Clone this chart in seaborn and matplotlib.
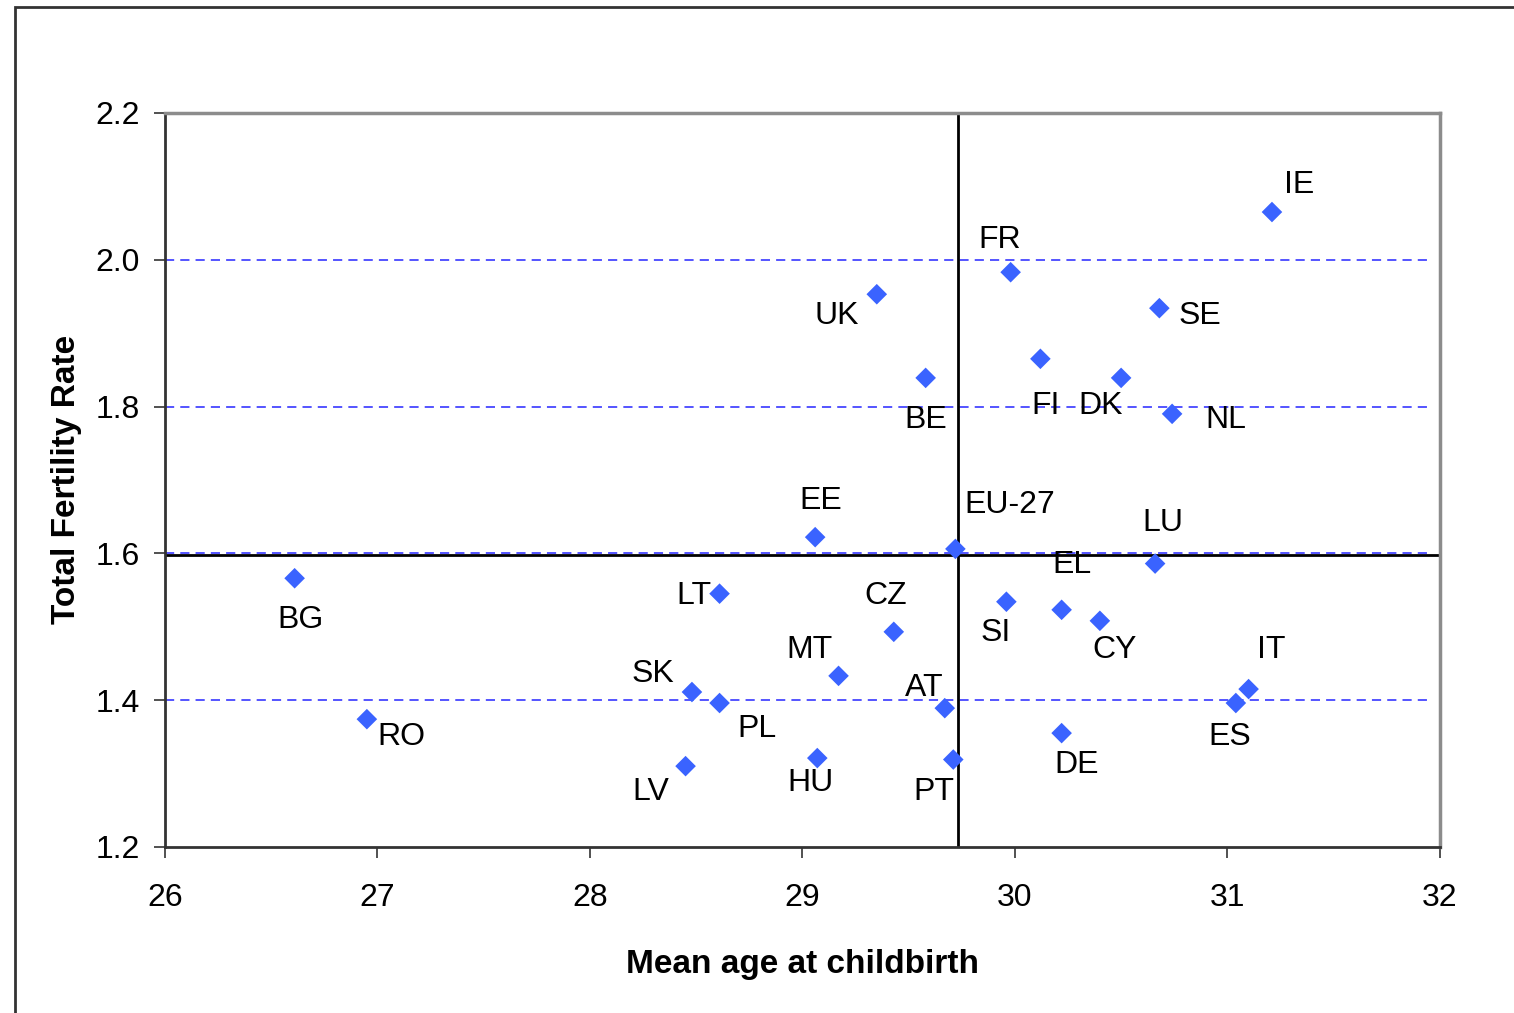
import matplotlib
matplotlib.use("Agg")
import matplotlib.pyplot as plt
import seaborn as sns
import pandas as pd
from matplotlib.patches import Rectangle

# data
countries = ["IE", "FR", "UK", "SE", "FI", "BE", "DK", "NL", "EE", "EU-27",
             "LU", "BG", "LT", "SI", "EL", "CY", "CZ", "MT", "SK", "IT",
             "PL", "ES", "AT", "RO", "DE", "HU", "PT", "LV"]
mean_age = [31.21, 29.98, 29.35, 30.68, 30.12, 29.58, 30.50, 30.74, 29.06, 29.72,
            30.66, 26.61, 28.61, 29.96, 30.22, 30.40, 29.43, 29.17, 28.48, 31.10,
            28.61, 31.04, 29.67, 26.95, 30.22, 29.07, 29.71, 28.45]
fertility = [2.065, 1.983, 1.953, 1.934, 1.865, 1.839, 1.839, 1.790, 1.622, 1.606,
             1.586, 1.566, 1.545, 1.534, 1.523, 1.508, 1.493, 1.433, 1.411, 1.415,
             1.396, 1.396, 1.389, 1.374, 1.355, 1.321, 1.319, 1.310]
eu_age, eu_tfr = 29.73, 1.598
grid_levels = [1.4, 1.6, 1.8, 2.0]
x_ticks = [26, 27, 28, 29, 30, 31, 32]
y_ticks = [1.2, 1.4, 1.6, 1.8, 2.0, 2.2]

# label placement (pixel offsets from the point)
label_offsets = {
    "IE": (27, 27), "FR": (-11, 32), "UK": (-40, -22), "SE": (41, -8),
    "FI": (5, -47), "BE": (0, -42), "DK": (-20, -28), "NL": (54, -6),
    "EE": (6, 36), "EU-27": (54, 44), "LU": (8, 41), "BG": (6, -42),
    "LT": (-26, -2), "SI": (-11, -31), "EL": (10, 45), "CY": (15, -29),
    "CZ": (-8, 36), "MT": (-29, 26), "SK": (-39, 18), "IT": (23, 39),
    "PL": (37, -26), "ES": (-6, -34), "AT": (-21, 20), "RO": (35, -18),
    "DE": (15, -32), "HU": (-7, -25), "PT": (-19, -32), "LV": (-35, -26),
}

df = pd.DataFrame({"country": countries, "age": mean_age, "tfr": fertility})

sns.set_style("white")
plt.rcParams["font.family"] = ["Liberation Sans", "DejaVu Sans"]

fig = plt.figure(figsize=(15.14, 10.13), dpi=100)
ax = fig.add_axes([0.109, 0.164, 0.842, 0.7245])

# outer frame of the figure
fig.patches.append(Rectangle((15 / 1514, -0.05), 1.2, 1 - 7 / 1013 + 0.05,
                             transform=fig.transFigure, fill=False,
                             edgecolor="#333333", linewidth=2))

for lvl in grid_levels:
    ax.axhline(lvl, xmin=0, xmax=0.992, color="#2626ff", linestyle=(0, (6, 4)),
               linewidth=1.1, zorder=1)

ax.axvline(eu_age, color="black", linewidth=2, zorder=2)
ax.axhline(eu_tfr, color="black", linewidth=2, zorder=2)

sns.scatterplot(data=df, x="age", y="tfr", marker="D", s=110,
                color="#3a63ff", edgecolor="none", ax=ax, zorder=3)

for c, x, y in zip(countries, mean_age, fertility):
    dx, dy = label_offsets[c]
    ax.annotate(c, (x, y), xytext=(dx, dy), textcoords="offset pixels",
                ha="center", va="center", fontsize=23, color="black")

ax.set_xlim(26, 32)
ax.set_ylim(1.2, 2.2)
ax.set_xticks(x_ticks)
ax.set_yticks(y_ticks)
ax.set_xticklabels([str(t) for t in x_ticks])
ax.set_yticklabels([f"{t:.1f}" for t in y_ticks])
ax.tick_params(axis="both", direction="out", length=8, width=1.2,
               labelsize=23, labelcolor="black", color="#333333",
               left=True, bottom=True)
ax.tick_params(axis="x", pad=18)
ax.tick_params(axis="y", pad=10)

for side in ["left", "bottom"]:
    ax.spines[side].set_color("#333333")
    ax.spines[side].set_linewidth(2)
for side in ["top", "right"]:
    ax.spines[side].set_color("#8c8c8c")
    ax.spines[side].set_linewidth(2.5)

ax.set_xlabel("Mean age at childbirth", fontsize=24, fontweight="bold",
              labelpad=26, color="black")
ax.set_ylabel("Total Fertility Rate", fontsize=24, fontweight="bold",
              labelpad=10, color="black")

fig.savefig("out.png", dpi=100, facecolor="white")
